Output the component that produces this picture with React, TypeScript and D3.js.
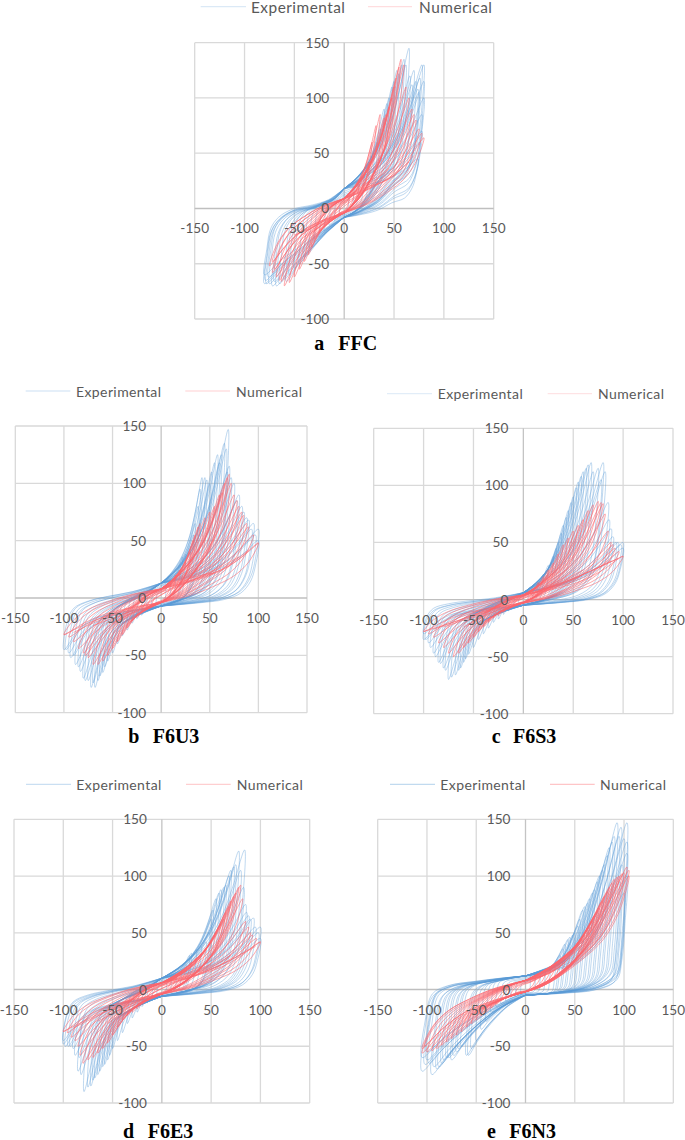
import React from "react";
import * as d3 from "d3";

type P = [number, number];

const xTicks = [-150, -100, -50, 0, 50, 100, 150];
const yTicks = [-100, -50, 0, 50, 100, 150];

// Peak points, per panel, series and side (displacement, force)
const aExpPos: P[] = [[5,14],[10,20],[15,24],[20,30],[25,38],[30,50],[33,60],[36,72],[40,90],[43,95],[45,100],[48,110],[50,115],[53,125],[55,122],[58,130],[60,135],[62,130],[65,145],[66,120],[68,112],[70,125],[72,115],[74,108],[75,105],[76,118],[78,130],[80,130],[80,115],[80,100],[78,85],[78,70],[76,60],[74,45]];
const aExpNeg: P[] = [[-5,-7],[-10,-11],[-15,-15],[-20,-20],[-25,-26],[-30,-30],[-35,-36],[-40,-44],[-45,-50],[-50,-54],[-55,-60],[-58,-66],[-60,-64],[-65,-68],[-68,-70],[-70,-66],[-72,-70],[-75,-68],[-78,-68],[-79,-65],[-80,-68],[-76,-62],[-80,-60]];
const aNumPos: P[] = [[5,10],[10,15],[15,22],[20,30],[25,42],[28,60],[32,75],[36,85],[40,82],[42,85],[45,92],[48,100],[50,110],[52,118],[55,128],[57,135],[60,130],[62,110],[65,100],[68,90],[70,85],[72,80],[75,72],[78,68],[80,64]];
const aNumNeg: P[] = [[-5,-5],[-10,-9],[-15,-13],[-20,-17],[-25,-22],[-30,-28],[-33,-35],[-36,-42],[-40,-48],[-45,-55],[-50,-62],[-55,-67],[-60,-70],[-63,-66],[-65,-65],[-68,-62],[-70,-55],[-72,-58],[-75,-52],[-72,-48]];
const aNumTail: P[][] = [[[-50,-24],[-25,-14],[0,4],[25,18],[50,30],[70,48]],[[-45,-22],[-20,-10],[0,6],[20,18],[45,27],[65,42]],[[-40,-26],[-20,-13],[0,2],[15,12],[30,24],[45,36]],[[-30,-20],[-15,-9],[0,8],[15,18],[30,28]]];

const bExpPos: P[] = [[5,12],[10,15],[15,20],[20,28],[22,36],[25,38],[30,45],[33,55],[35,65],[38,80],[40,95],[42,105],[45,105],[47,103],[50,100],[52,110],[55,118],[58,125],[60,118],[62,125],[65,135],[67,130],[69,147],[70,115],[68,110],[72,105],[75,100],[78,85],[80,90],[83,80],[85,75],[88,70],[90,68],[93,60],[95,65],[97,55],[100,60],[100,50]];
const bExpNeg: P[] = [[-5,-5],[-10,-8],[-15,-11],[-20,-15],[-25,-18],[-30,-22],[-35,-28],[-40,-33],[-45,-40],[-50,-48],[-55,-55],[-58,-60],[-60,-65],[-63,-68],[-65,-72],[-68,-78],[-70,-74],[-72,-78],[-75,-72],[-78,-72],[-80,-70],[-83,-64],[-85,-60],[-88,-58],[-90,-50],[-93,-52],[-95,-48],[-98,-45],[-100,-45]];
const bNumPos: P[] = [[10,15],[15,20],[20,25],[25,32],[30,40],[33,50],[35,55],[38,62],[40,65],[45,70],[50,75],[55,80],[60,90],[63,92],[65,100],[68,105],[70,108],[72,100],[75,90],[78,85],[80,80],[83,75],[85,72],[88,65],[90,62],[95,55],[100,48]];
const bNumNeg: P[] = [[-10,-8],[-15,-10],[-20,-13],[-25,-17],[-30,-20],[-35,-26],[-40,-32],[-45,-38],[-50,-44],[-55,-50],[-60,-55],[-65,-58],[-70,-58],[-75,-52],[-78,-50],[-80,-48],[-85,-44],[-90,-38],[-95,-34],[-100,-32]];
const bNumTail: P[][] = [[[-100,-32],[-70,-20],[-40,-11],[0,5],[40,18],[70,28],[100,48]],[[-90,-30],[-60,-18],[-30,-8],[0,7],[30,15],[60,24],[90,42]],[[-70,-24],[-45,-16],[-20,-7],[0,3],[25,13],[50,22],[80,36]],[[-50,-22],[-30,-13],[-10,-3],[10,8],[30,17],[55,22]]];

const cExpPos: P[] = [[5,7],[10,10],[15,15],[20,22],[25,30],[30,38],[33,45],[35,50],[38,58],[40,65],[43,72],[45,78],[48,85],[50,90],[53,98],[55,103],[58,108],[60,112],[63,115],[65,118],[68,120],[70,112],[75,115],[78,105],[80,120],[82,112],[85,85],[86,70],[88,62],[90,55],[93,50],[95,50],[98,48],[100,50],[100,45]];
const cExpNeg: P[] = [[-5,-4],[-10,-7],[-15,-10],[-20,-13],[-25,-17],[-30,-20],[-35,-25],[-40,-30],[-45,-35],[-50,-42],[-55,-48],[-58,-52],[-60,-55],[-63,-60],[-65,-62],[-68,-66],[-72,-68],[-75,-70],[-78,-62],[-80,-60],[-83,-56],[-85,-55],[-88,-50],[-90,-47],[-93,-42],[-95,-38],[-98,-35],[-100,-35],[-100,-30]];
const cNumPos: P[] = [[10,10],[15,15],[20,20],[25,26],[30,32],[35,40],[40,48],[45,54],[50,60],[55,65],[60,70],[65,78],[70,83],[75,86],[78,85],[80,84],[82,75],[85,60],[88,50],[90,48],[92,45],[96,42],[100,38]];
const cNumNeg: P[] = [[-10,-6],[-15,-9],[-20,-11],[-25,-14],[-30,-16],[-35,-20],[-40,-24],[-45,-28],[-50,-33],[-55,-38],[-60,-42],[-65,-47],[-70,-50],[-75,-47],[-80,-42],[-85,-38],[-90,-33],[-95,-30],[-100,-28]];
const cNumTail: P[][] = [[[-100,-28],[-60,-17],[-30,-8],[0,1],[30,10],[60,22],[100,38]],[[-90,-26],[-55,-15],[-25,-6],[0,3],[35,13],[65,24],[95,36]],[[-80,-24],[-50,-15],[-20,-5],[0,2],[30,12],[55,20],[88,34]],[[-60,-24],[-40,-15],[-20,-7],[0,1],[20,9],[40,17],[60,26]]];

const dExpPos: P[] = [[5,8],[10,11],[15,13],[20,16],[25,22],[28,30],[30,32],[35,35],[40,38],[45,42],[48,50],[50,62],[52,70],[55,80],[58,85],[60,88],[63,90],[65,92],[68,100],[70,105],[73,108],[75,110],[78,122],[80,105],[84,123],[83,90],[85,75],[86,68],[88,65],[90,62],[93,63],[95,55],[98,50],[100,55],[100,45]];
const dExpNeg: P[] = [[-5,-5],[-10,-8],[-15,-12],[-20,-15],[-25,-20],[-30,-25],[-35,-30],[-40,-38],[-45,-45],[-50,-52],[-53,-58],[-55,-62],[-58,-66],[-60,-68],[-63,-72],[-65,-75],[-68,-78],[-70,-80],[-72,-85],[-75,-86],[-79,-90],[-82,-75],[-85,-72],[-84,-60],[-88,-58],[-90,-52],[-93,-50],[-95,-50],[-98,-50],[-100,-45],[-100,-48]];
const dNumPos: P[] = [[10,10],[15,13],[20,16],[25,20],[30,24],[35,28],[40,32],[45,37],[50,42],[55,50],[60,58],[63,62],[65,68],[68,73],[70,78],[73,82],[75,85],[78,90],[80,92],[82,80],[85,60],[88,55],[90,50],[92,48],[96,45],[100,42]];
const dNumNeg: P[] = [[-10,-7],[-15,-10],[-20,-13],[-25,-17],[-30,-20],[-35,-23],[-40,-27],[-45,-33],[-50,-40],[-55,-47],[-60,-52],[-65,-56],[-70,-60],[-75,-62],[-80,-65],[-83,-58],[-85,-50],[-88,-45],[-92,-42],[-96,-38],[-100,-37]];
const dNumTail: P[][] = [[[-100,-37],[-70,-24],[-40,-12],[0,3],[40,14],[70,26],[100,42]],[[-90,-34],[-60,-21],[-30,-9],[0,4],[30,11],[60,22],[95,38]],[[-65,-28],[-45,-19],[-20,-8],[0,1],[20,8],[45,17],[70,30]],[[-55,-30],[-35,-17],[-15,-6],[5,3],[25,11],[50,22]]];

const eExpPos: P[] = [[5,12],[10,13],[15,14],[20,16],[25,18],[30,20],[33,26],[35,30],[38,36],[40,40],[43,44],[45,46],[48,48],[50,50],[53,56],[55,62],[58,70],[60,73],[63,76],[65,80],[68,85],[70,88],[73,95],[75,100],[78,105],[80,110],[83,118],[85,125],[88,130],[90,135],[93,147],[95,135],[97,143],[100,133],[103,147],[103,130],[103,120],[103,100],[98,110],[96,95],[100,85]];
const eExpNeg: P[] = [[-5,-5],[-10,-6],[-15,-8],[-20,-10],[-25,-12],[-30,-15],[-35,-20],[-40,-28],[-45,-35],[-50,-45],[-55,-52],[-58,-58],[-60,-58],[-65,-50],[-68,-52],[-70,-55],[-73,-58],[-75,-62],[-78,-60],[-80,-60],[-83,-62],[-85,-65],[-88,-68],[-90,-70],[-93,-68],[-95,-75],[-98,-65],[-100,-62],[-102,-66],[-105,-72],[-105,-60],[-100,-55]];
const eNumPos: P[] = [[10,10],[15,12],[20,14],[25,17],[30,20],[35,22],[40,24],[45,28],[50,33],[55,38],[58,44],[60,48],[63,52],[65,55],[68,60],[70,65],[73,69],[75,72],[78,78],[80,82],[83,86],[85,90],[88,94],[90,97],[93,99],[95,100],[98,102],[100,103],[103,108],[105,105],[105,100]];
const eNumNeg: P[] = [[-10,-3],[-15,-5],[-20,-8],[-25,-10],[-30,-13],[-35,-16],[-40,-20],[-45,-23],[-50,-27],[-55,-30],[-60,-33],[-65,-37],[-70,-40],[-75,-43],[-80,-46],[-85,-49],[-90,-52],[-95,-54],[-100,-55],[-103,-50],[-105,-56],[-105,-52]];
const eNumTail: P[][] = [];

// Branch shapes: (fraction of peak displacement, fraction of peak force)
const expLoad: P[] = [[0,0],[.25,.1],[.5,.25],[.7,.45],[.85,.7],[1,1]];
const expUnload: P[] = [[1,1],[.97,.62],[.92,.38],[.82,.2],[.65,.1],[.4,.05],[0,0]];
const negLoad: P[] = [[0,0],[.25,.08],[.5,.18],[.7,.3],[.85,.55],[1,1]];
const negUnload: P[] = [[1,1],[.97,.6],[.9,.38],[.75,.27],[.55,.2],[.3,.13],[0,0]];
const aExpUnload: P[] = [[1,1],[.97,.7],[.92,.5],[.82,.33],[.65,.25],[.45,.12],[.2,.04],[0,0]];
const aNegLoad: P[] = [[0,0],[.4,.33],[.6,.55],[.8,.75],[1,1]];
const aNegUnload: P[] = [[1,1],[.97,.7],[.92,.46],[.82,.33],[.65,.24],[.4,.19],[.2,.13],[0,0]];
const numLoad: P[] = [[0,0],[.3,.15],[.6,.38],[.8,.65],[1,1]];
const numUnload: P[] = [[1,1],[.9,.68],[.75,.45],[.55,.28],[.3,.12],[0,0]];
const eExpLoad: P[] = [[0,0],[.3,.07],[.5,.14],[.7,.35],[.85,.65],[1,1]];
const eExpUnload: P[] = [[1,1],[.98,.6],[.95,.3],[.9,.13],[.7,.05],[.4,.02],[0,0]];
const eNegLoad: P[] = [[0,0],[.3,.18],[.5,.36],[.7,.58],[.85,.78],[1,1]];
const eNegUnload: P[] = [[1,1],[.97,.55],[.9,.22],[.75,.12],[.5,.07],[.25,.03],[0,0]];

const legendLabels = ["Experimental", "Numerical"];

const panels = [
  { letter: "a", name: "FFC", box: [194.7, 42.7, 493.7, 319], exp: [aExpPos, aExpNeg], num: [aNumPos, aNumNeg], tail: aNumTail,
    up: [18, 9], down: [-8, -4], lg: [6.7, 200.7, 246, 251, 368, 412, 419], lgFont: 15.4, lgW: [94, 73], lgOp: .35, cap: [350, 314.3, 338.3],
    shapes: [expLoad, aExpUnload, aNegLoad, aNegUnload] },
  { letter: "b", name: "F6U3", box: [15.3, 426, 307, 712.7], exp: [bExpPos, bExpNeg], num: [bNumPos, bNumNeg], tail: bNumTail,
    up: [13, 8], down: [-7, -4], lg: [391, 25.7, 70.3, 76, 185.3, 230, 236], lgFont: 14, lgW: [85, 66], lgOp: .4, cap: [742.7, 128.3, 152.7],
    shapes: [expLoad, expUnload, negLoad, negUnload] },
  { letter: "c", name: "F6S3", box: [373.7, 428.3, 673, 713.7], exp: [cExpPos, cExpNeg], num: [cNumPos, cNumNeg], tail: cNumTail,
    up: [6, 4], down: [-5, -3], lg: [393.7, 387, 432, 437.7, 547.7, 592, 598], lgFont: 14, lgW: [85, 66], lgOp: .28, cap: [742.7, 491.7, 513],
    shapes: [expLoad, expUnload, negLoad, negUnload] },
  { letter: "d", name: "F6E3", box: [14, 819.3, 309.7, 1103], exp: [dExpPos, dExpNeg], num: [dNumPos, dNumNeg], tail: dNumTail,
    up: [10, 6], down: [-6, -4], lg: [784.3, 26, 71, 76.3, 186, 230.7, 236.7], lgFont: 14, lgW: [85, 66], lgOp: .5, cap: [1137.5, 123, 147.7],
    shapes: [expLoad, expUnload, negLoad, negUnload] },
  { letter: "e", name: "F6N3", box: [377.7, 819.3, 673.3, 1103], exp: [eExpPos, eExpNeg], num: [eNumPos, eNumNeg], tail: eNumTail,
    up: [12, 8], down: [-5, -2], lg: [784.3, 390, 435, 440.3, 550, 594.7, 600], lgFont: 14, lgW: [85, 66], lgOp: .6, cap: [1137.5, 487, 509.3],
    shapes: [eExpLoad, eExpUnload, eNegLoad, eNegUnload] },
];

const BLUE = "#5b9bd5";
const RED = "#fb666c";
const TEXT = "#595959";
const FONT = "Lato, 'Open Sans', sans-serif";

function halfLoop(peak: P, load: P[], unload: P[], up: number, down: number): P[] {
  const [px, py] = peak;
  const pos = px > 0;
  // lower-amplitude cycles cross the force axis closer to the origin
  const k = Math.min(1, 0.45 + Math.abs(px) / 60);
  const b1 = (pos ? up : down) * k;
  const b2 = (pos ? down : up) * k;
  const first = load.map(([fx, fy]) => [fx * px, b1 + fy * (py - b1)] as P);
  const second = unload.slice(1).map(([fx, fy]) => [fx * px, b2 + fy * (py - b2)] as P);
  return first.concat(second);
}

function Panel({ p }: { p: (typeof panels)[number] }) {
  const [x0, y0, x1, y1] = p.box;
  const x = d3.scaleLinear().domain([-150, 150]).range([x0, x1]);
  const y = d3.scaleLinear().domain([-100, 150]).range([y1, y0]);
  const line = d3.line<P>().x((d) => x(d[0])).y((d) => y(d[1])).curve(d3.curveCatmullRom.alpha(0.5));
  const straight = d3.line<P>().x((d) => x(d[0])).y((d) => y(d[1])).curve(d3.curveMonotoneX);
  const [load, unload, nLoad, nUnload] = p.shapes;
  const [lgY, l1, l2, t1, l3, l4, t2] = p.lg;
  return (
    <g>
      {xTicks.filter((t) => t !== 0).map((t) => (
        <line key={"x" + t} x1={x(t)} x2={x(t)} y1={y0} y2={y1} stroke="#d9d9d9" strokeWidth={1.3} />
      ))}
      {yTicks.filter((t) => t !== 0).map((t) => (
        <line key={"y" + t} x1={x0} x2={x1} y1={y(t)} y2={y(t)} stroke="#d9d9d9" strokeWidth={1.3} />
      ))}
      <line x1={x(0)} x2={x(0)} y1={y0} y2={y1} stroke="#c4c4c4" strokeWidth={1.3} />
      <line x1={x0} x2={x1} y1={y(0)} y2={y(0)} stroke="#bfbfbf" strokeWidth={1.3} />

      <g fill="none" stroke={BLUE} strokeWidth={0.65} strokeOpacity={0.6}>
        {p.exp[0].map((d, i) => (
          <path key={"ep" + i} d={line(halfLoop(d, load, unload, p.up[0], p.down[0])) || ""} />
        ))}
        {p.exp[1].map((d, i) => (
          <path key={"en" + i} d={line(halfLoop(d, nLoad, nUnload, p.up[0], p.down[0])) || ""} />
        ))}
      </g>
      <g fill="none" stroke={RED} strokeWidth={0.8} strokeOpacity={0.72}>
        {p.num[0].map((d, i) => (
          <path key={"np" + i} d={line(halfLoop(d, numLoad, numUnload, p.up[1], p.down[1])) || ""} />
        ))}
        {p.num[1].map((d, i) => (
          <path key={"nn" + i} d={line(halfLoop(d, numLoad, numUnload, p.up[1], p.down[1])) || ""} />
        ))}
        {p.tail.map((d, i) => (
          <path key={"nt" + i} d={straight(d) || ""} />
        ))}
      </g>

      <g fontFamily={FONT} fontSize={13.6} fill={TEXT}>
        {xTicks.map((t) => (
          <text key={"xl" + t} x={x(t)} y={y(0) + 20} textAnchor="middle" dominantBaseline="central">{t}</text>
        ))}
        {yTicks.map((t) => (
          <text key={"yl" + t} x={x(0) - 15} y={y(t)} textAnchor="end" dominantBaseline="central">{t}</text>
        ))}
      </g>

      <line x1={l1} x2={l2} y1={lgY} y2={lgY} stroke={BLUE} strokeWidth={0.8} strokeOpacity={p.lgOp} />
      <line x1={l3} x2={l4} y1={lgY} y2={lgY} stroke={RED} strokeWidth={0.8} strokeOpacity={p.lgOp} />
      <g fontFamily={FONT} fontSize={p.lgFont} fill={TEXT}>
        <text x={t1} y={lgY} dominantBaseline="central" textLength={p.lgW[0]}>{legendLabels[0]}</text>
        <text x={t2} y={lgY} dominantBaseline="central" textLength={p.lgW[1]}>{legendLabels[1]}</text>
      </g>

      <g fontFamily="'Liberation Serif', serif" fontWeight="bold" fontSize={20} fill="#000">
        <text x={p.cap[1]} y={p.cap[0]}>{p.letter}</text>
        <text x={p.cap[2]} y={p.cap[0]}>{p.name}</text>
      </g>
    </g>
  );
}

export default function App() {
  return (
    <svg width={685} height={1140} viewBox="0 0 685 1140" style={{ position: "absolute", left: 0, top: 0, background: "#fff" }}>
      {panels.map((p) => (
        <Panel key={p.letter} p={p} />
      ))}
    </svg>
  );
}
